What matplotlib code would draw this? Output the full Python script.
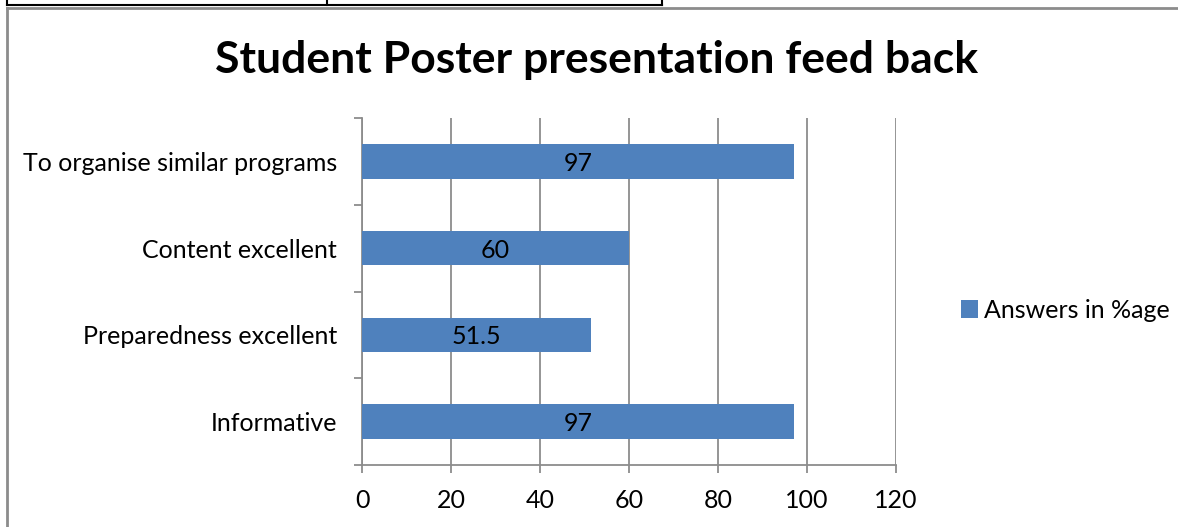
import matplotlib
matplotlib.use("Agg")
import matplotlib.pyplot as plt
from matplotlib.lines import Line2D

categories = ["Informative", "Preparedness excellent", "Content excellent", "To organise similar programs"]
values = [97, 51.5, 60, 97]
value_labels = ["97", "51.5", "60", "97"]
xticks = [0, 20, 40, 60, 80, 100, 120]
series_name = "Answers in %age"
title = "Student Poster presentation feed back"

plt.rcParams['font.family'] = ['Lato', 'DejaVu Sans']

W, H = 1178, 527
fig = plt.figure(figsize=(W/100, H/100), dpi=100)
ax = fig.add_axes([362/W, 1-465/H, (896-362)/W, (465-118)/H])

bar_color = "#4F81BD"
grid_color = "#8C8C8C"
fs = 18
pos = list(range(len(categories)))
bars = ax.barh(pos, values, height=0.4, color=bar_color, label=series_name, zorder=3)
for p, v, t in zip(pos, values, value_labels):
    ax.text(v/2, p, t, ha="center", va="center_baseline", fontsize=fs, color="black", zorder=4)

ax.set_xlim(0, 120)
ax.set_ylim(-0.5, len(categories)-0.5)
ax.set_xticks(xticks)
ax.set_xticklabels([str(x) for x in xticks], fontsize=fs)
ax.set_yticks([p - 0.5 for p in pos] + [len(categories)-0.5])
ax.set_yticklabels([])
ax.set_yticks(pos, minor=True)
ax.set_yticklabels(categories, minor=True, fontsize=fs)
ax.tick_params(axis="y", which="minor", length=0, pad=18)
ax.tick_params(axis="y", which="major", length=6, width=1.3, color=grid_color, direction="out")
ax.tick_params(axis="x", length=6, width=1.3, color=grid_color, direction="out", pad=11)
ax.xaxis.grid(True, color=grid_color, linewidth=1.3, zorder=0)
ax.set_axisbelow(True)
for s in ["top", "right"]:
    ax.spines[s].set_visible(False)
for s in ["left", "bottom"]:
    ax.spines[s].set_color(grid_color)
    ax.spines[s].set_linewidth(1.3)

fig.text(597/W, 1-60/H, title, ha="center", va="center", fontsize=32, fontweight="bold")

leg = fig.legend(handles=[bars], labels=[series_name], loc="center left",
                 bbox_to_anchor=(938/W, 1-310/H), frameon=False, fontsize=fs,
                 handlelength=0.7, handleheight=0.7, handletextpad=0.25)

def fl(x0, y0, x1, y1, color, lw):
    fig.add_artist(Line2D([x0/W, x1/W], [1-y0/H, 1-y1/H], transform=fig.transFigure,
                          color=color, linewidth=lw))

fl(7, 8, W, 8, "#8C8C8C", 2)
fl(7, 8, 7, H, "#8C8C8C", 2)
fl(7, 5, 662, 5, "black", 1.5)
fl(7, 0, 7, 5, "black", 1.5)
fl(327, 0, 327, 5, "black", 1.5)
fl(662, 0, 662, 5, "black", 1.5)

fig.savefig("out.png", dpi=100)
